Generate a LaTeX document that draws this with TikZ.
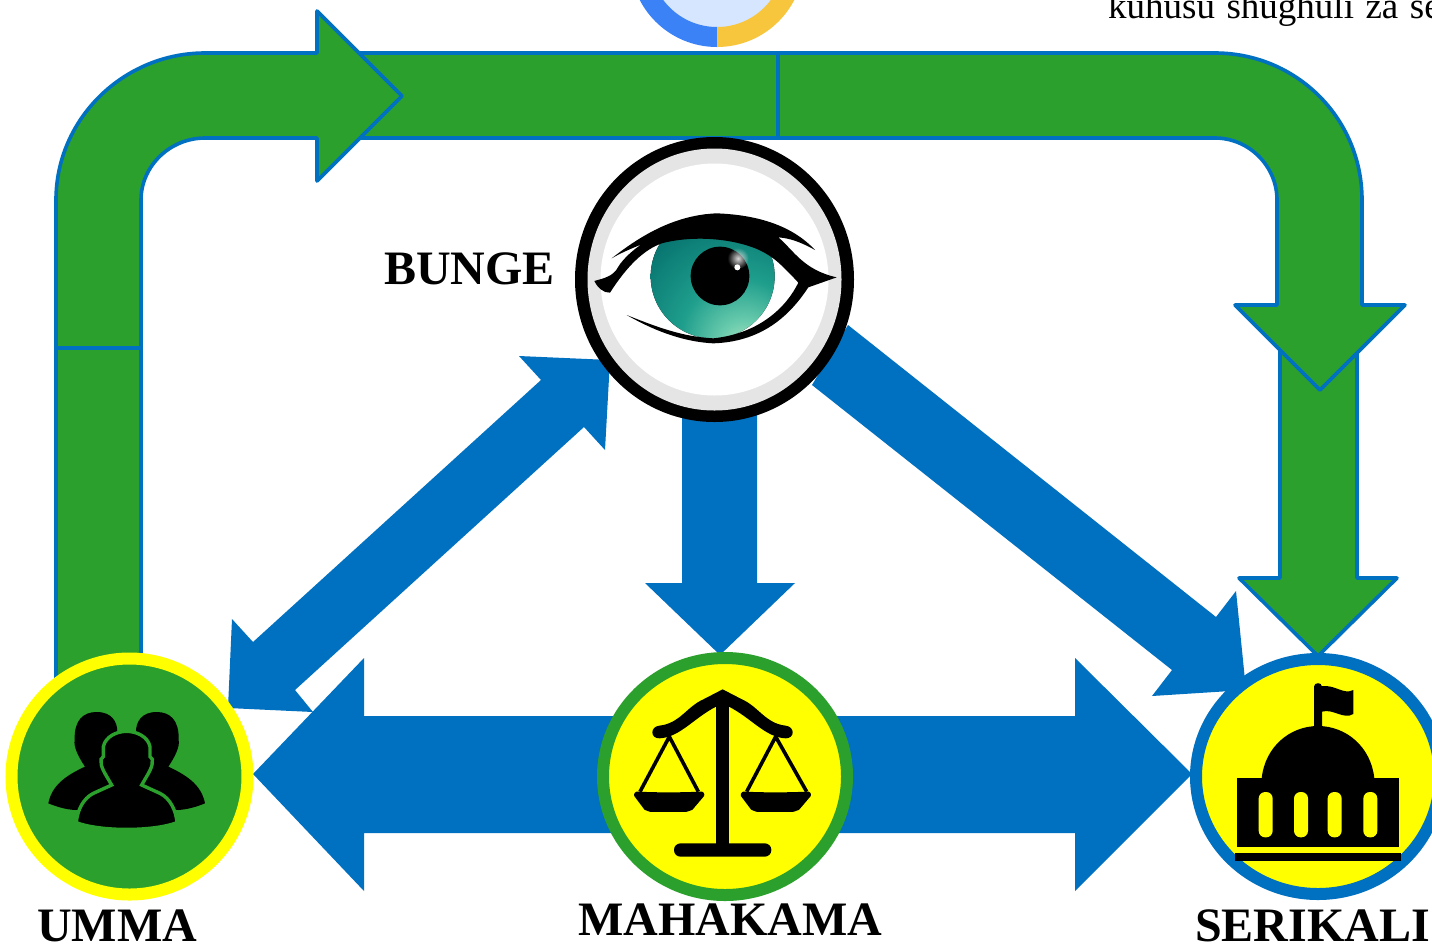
\documentclass[tikz,border=0pt]{standalone}
\usepackage{fontspec}
\usetikzlibrary{fadings}
\setmainfont{Liberation Serif}
\definecolor{bl}{HTML}{0070C0}
\definecolor{gr}{HTML}{2CA02C}
\definecolor{yl}{HTML}{FFFF00}
\definecolor{rg}{HTML}{E5E5E5}
\pgfdeclareradialshading{iris}{\pgfpoint{14bp}{-31bp}}{%
 rgb(0bp)=(0.74,0.93,0.78);
 rgb(10bp)=(0.42,0.80,0.68);
 rgb(24bp)=(0.12,0.62,0.55);
 rgb(44bp)=(0.03,0.46,0.44);
 rgb(62bp)=(0,0.16,0.16);
 rgb(72bp)=(0,0,0);
 rgb(120bp)=(0,0,0)}
\pgfdeclareradialshading{rimshade}{\pgfpointorigin}{%
 rgb(0bp)=(0,0,0);
 rgb(38bp)=(0,0,0);
 rgb(47bp)=(1,1,1);
 rgb(50bp)=(1,1,1)}
\pgfdeclarefading{rimfade}{\pgfuseshading{rimshade}}
\tikzfading[name=blobfade,inner color=transparent!0,outer color=transparent!100]
\tikzset{
 greenarrow/.style={fill=gr,draw=bl,line width=3.6pt,line join=round},
 bluearrow/.style={fill=bl},
 icon/.style={fill=black},
 lab/.style={font=\fontsize{48}{50}\selectfont\bfseries,anchor=base west,inner sep=0pt},
 zoomL/.style={shift={(0,640)},x=0.33333pt,y=-0.33333pt},
 zoomM/.style={shift={(580,640)},x=0.33333pt,y=-0.33333pt},
 zoomS/.style={shift={(1150,640)},x=0.33333pt,y=-0.33333pt},
 zoomE/.style={shift={(560,0)},x=0.33333pt,y=-0.33333pt}
}
\begin{document}
\begin{tikzpicture}[x=1pt,y=-1pt]
\useasboundingbox (0,0) rectangle (1432,946);
\clip (0,0) rectangle (1432,946);
\fill[white] (0,0) rectangle (1432,946);
% top partial circle
\fill[fill={rgb,255:red,214;green,230;blue,255}] (717,-40) circle[radius=70];
\begin{scope}
\clip (600,-140) rectangle (717,60);
\draw[line width=20pt,color={rgb,255:red,59;green,130;blue,246}] (717,-40) circle[radius=77];
\end{scope}
\begin{scope}
\clip (717,-140) rectangle (830,60);
\draw[line width=20pt,color={rgb,255:red,248;green,198;blue,61}] (717,-40) circle[radius=77];
\end{scope}
% text top right
\node[anchor=base west,inner sep=0pt,font=\fontsize{37}{40}\selectfont] (note) at (1108,18) {\spaceskip=11.5pt kuhusu shughuli za se};
% green arrows
\draw[greenarrow] (56,348) rectangle (141,690);
\draw[greenarrow] (340,53) rectangle (778,138);
\draw[greenarrow] (56,348) -- (56,200) .. controls (56,118.8) and (123.7,53) .. (205,53) -- (317,53) -- (317,11) -- (402,96) -- (317,181) -- (317,138) -- (205,138) .. controls (170,138) and (141,166) .. (141,200) -- (141,348) -- cycle;
\draw[greenarrow] (1280,340) -- (1357,340) -- (1357,578) -- (1397,578) -- (1318,656) -- (1239,578) -- (1280,578) -- cycle;
\draw[greenarrow] (778,53) -- (1215,53) .. controls (1296,53) and (1362,118) .. (1362,200) -- (1362,305) -- (1405,305) -- (1320,390) -- (1235,305) -- (1277,305) -- (1277,200) .. controls (1277,166) and (1249,138) .. (1215,138) -- (778,138) -- cycle;
% blue arrows
\fill[bluearrow] (519,356) -- (610,360) -- (605,450) -- (584,427) -- (295,690) -- (313,712) -- (228,708) -- (232,619) -- (253,642) -- (541,380) -- cycle;
\fill[bluearrow] (848,325) -- (1216,617) -- (1236,591) -- (1246,690) -- (1152,696) -- (1172,670) -- (812,385) -- cycle;
\fill[bluearrow] (682,400) -- (757,400) -- (757,583) -- (795,583) -- (720,655) -- (645,583) -- (682,583) -- cycle;
\fill[bluearrow] (253,774) -- (364,658) -- (364,716) -- (1075,716) -- (1075,658) -- (1192,774) -- (1075,891) -- (1075,833) -- (364,833) -- (364,891) -- cycle;
% circles
\draw[fill=gr,draw=yl,line width=12pt] (129.5,776.5) circle[radius=118];
\draw[fill=yl,draw=gr,line width=12pt] (725,776.5) ellipse[x radius=122,y radius=118.5];
\draw[fill=yl,draw=bl,line width=12pt] (1318,776.5) ellipse[x radius=122,y radius=117.5];
\fill[black] (714.5,279.5) ellipse[x radius=139.5,y radius=142.5];
\fill[rg] (714.5,279.5) ellipse[x radius=127,y radius=131];
\fill[white] (714.5,279.5) ellipse[x radius=114,y radius=116];
% eye
\begin{scope}[zoomE]
\fill[shading=iris] (458,829) circle[radius=186];
\fill[black,path fading=rimfade] (458,829) circle[radius=192];
\fill[black] (480,828) circle[radius=88];
\fill[black] (155,775) .. controls (250,700) and (350,645) .. (470,640) .. controls (600,645) and (700,680) .. (765,750) .. controls (720,725) and (690,715) .. (655,712) .. controls (700,750) and (730,810) .. (830,832) -- (745,862) .. controls (700,930) and (620,1025) .. (460,1030) .. controls (360,1025) and (270,985) .. (200,945) .. controls (300,985) and (370,1010) .. (460,1015) .. controls (600,1000) and (680,920) .. (715,848) .. controls (680,810) and (650,780) .. (625,765) .. controls (560,722) and (420,700) .. (305,730) .. controls (250,750) and (200,800) .. (150,878) .. controls (130,880) and (110,860) .. (103,843) .. controls (130,835) and (160,830) .. (175,800) .. controls (190,775) and (225,745) .. (245,733) .. controls (215,745) and (180,760) .. (155,775) -- cycle;
\fill[white!85!black,path fading=blobfade] (534,775) circle[radius=32];
\fill[white] (532,802) circle[radius=9];
\end{scope}
% umma icon
\begin{scope}[zoomL]
\fill[icon] (145,490) .. controls (155,440) and (190,410) .. (255,380) .. controls (235,350) and (220,320) .. (224,300) .. controls (222,240) and (250,216) .. (290,216) .. controls (335,216) and (352,245) .. (352,275) -- (380,500) -- (225,510) .. controls (195,508) and (170,500) .. (145,490) -- cycle;
\fill[icon] (615,490) .. controls (605,440) and (570,410) .. (505,380) .. controls (525,350) and (540,320) .. (536,300) .. controls (538,240) and (510,216) .. (470,216) .. controls (425,216) and (408,245) .. (408,275) -- (380,500) -- (535,510) .. controls (565,508) and (590,500) .. (615,490) -- cycle;
\draw[icon,draw=gr,line width=3.4pt] (229,548) .. controls (232,510) and (250,475) .. (280,460) -- (335,435) .. controls (315,400) and (300,380) .. (303,358) -- (310,350) -- (310,320) .. controls (316,290) and (350,274) .. (380,274) .. controls (410,274) and (444,290) .. (450,320) -- (450,350) -- (457,358) .. controls (460,380) and (445,400) .. (425,435) -- (480,460) .. controls (510,475) and (528,510) .. (531,548) .. controls (460,575) and (300,575) .. (229,548) -- cycle;
\end{scope}
% scales icon
\begin{scope}[zoomM]
\fill[icon] (408,190) rectangle (447,620);
\fill[icon,rounded corners=6.5pt] (282,610) rectangle (574,650);
\fill[icon] (238,257) .. controls (300,250) and (320,200) .. (370,178) -- (428,148) -- (486,178) .. controls (536,200) and (556,250) .. (617,257) .. controls (645,260) and (645,295) .. (617,295) .. controls (556,292) and (515,235) .. (447,200) -- (408,200) .. controls (340,235) and (300,292) .. (238,295) .. controls (210,295) and (210,260) .. (238,257) -- cycle;
\draw[line width=3.6pt] (180,455) -- (268,290) -- (355,455);
\draw[line width=3.6pt] (500,455) -- (587,290) -- (680,455);
\foreach \dx in {0,320}{
\filldraw[icon,draw=black,line width=3.5pt,line join=round,shift={(\dx,0)}] (170,460) .. controls (230,463) and (300,463) .. (366,460) -- (368,465) -- (334,505) -- (320,510) -- (210,510) -- (197,505) -- (167,465) -- cycle;
}
\end{scope}
% building icon
\begin{scope}[zoomS]
\fill[icon] (492,262) -- (492,140) .. controls (492,126) and (516,126) .. (516,140) -- (516,262) -- cycle;
\fill[icon] (516,138) .. controls (560,135) and (580,165) .. (610,150) -- (610,222) .. controls (580,240) and (550,205) .. (516,215) -- cycle;
\fill[icon] (335,415) .. controls (345,320) and (420,258) .. (504,258) .. controls (588,258) and (663,320) .. (673,415) -- cycle;
\fill[icon] (261,413) rectangle (748,621);
\foreach \wx in {326,432,533,640}{
\fill[yl,rounded corners=6.5pt] (\wx,456) rectangle ++(42,136);
}
\fill[icon] (255,639) rectangle (753,663);
\end{scope}
% labels
\node[lab] (bunge) at (384,284) {BUNGE};
\node[lab] (umma) at (37,941) {UMMA};
\node[lab] (mahakama) at (578,935) {MAHAKAMA};
\node[lab] (serikali) at (1195,941) {SERIKALI};
\end{tikzpicture}
\end{document}
